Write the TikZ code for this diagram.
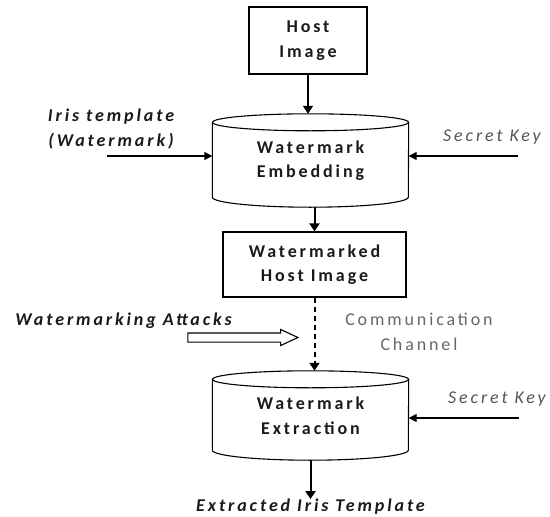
\documentclass[tikz,border=0pt]{standalone}
\usepackage{fontspec}
\setmainfont{Carlito}[LetterSpace=16]
\usetikzlibrary{arrows.meta,shapes.arrows}
\definecolor{inkdark}{HTML}{1A1A1A}
\definecolor{keygray}{HTML}{555555}
\definecolor{changray}{HTML}{666666}

\begin{document}
\begin{tikzpicture}[x=1pt,y=-1pt,
  every node/.style={inner sep=0pt, text=inkdark, font=\fontsize{18}{24.5}\selectfont},
  block/.style={draw, line width=1.3pt, align=center, font=\fontsize{18}{24.5}\selectfont\bfseries},
  cyl/.style={align=center, minimum width=196pt, font=\fontsize{18}{24.5}\selectfont\bfseries},
  cylline/.style={line width=1.1pt},
  lbl/.style={align=center, font=\fontsize{18}{24.5}\selectfont\bfseries\itshape},
  keylbl/.style={text=keygray, font=\fontsize{18}{24.5}\selectfont\itshape},
  chan/.style={align=center, text=changray, font=\fontsize{18}{24.5}\selectfont},
  arr/.style={line width=2pt, -{Triangle[length=8pt,width=10pt]}},
  sidearr/.style={line width=1.4pt, -{Triangle[length=8pt,width=8pt]}},
  hollow/.style={single arrow, draw, line width=1.1pt, fill=white, minimum height=110pt,
    inner sep=4pt, single arrow head extend=3.5pt, single arrow tip angle=50}]
\useasboundingbox (0,0) rectangle (550,517);

\node[block, minimum width=118pt, minimum height=67pt] (host) at (308,40.5) {Host\\Image};
\node[cyl, minimum height=93pt] (embed) at (310.5,160.5) {Watermark\\Embedding};
\node[block, minimum width=183pt, minimum height=65pt] (marked) at (314.5,264.5) {Watermarked\\Host Image};
\node[cyl, minimum height=89pt] (extract) at (310.5,415.5) {Watermark\\Extraction};
\node[lbl] (result) at (310.5,507) {Extracted Iris Template};

% cylinder outlines
\foreach \c in {embed,extract}{
  \draw[cylline] ([yshift=-8.5pt]\c.north) ellipse [x radius=98pt, y radius=8.5pt];
  \draw[cylline] ([yshift=-8.5pt]\c.north west) -- ([yshift=10pt]\c.south west)
    arc [start angle=180, end angle=360, x radius=98pt, y radius=10pt]
    -- ([yshift=-8.5pt]\c.north east);
}

\draw[arr] (host.south) -- (host.south |- embed.north);
\draw[arr] (marked.north |- embed.south) -- (marked.north);
\draw[arr, dash pattern=on 5pt off 4pt] (marked.south) -- (marked.south |- extract.north);
\draw[arr] (extract.south) -- (result.north);

\node[lbl] (irislbl) at (111,129) {Iris template\\(Watermark)};
\coordinate (irisin) at (107,156);
\draw[sidearr] (irisin) -- (irisin -| embed.west);

\node[keylbl] (key1) at (492,137) {Secret Key};
\coordinate (key1in) at (518,156);
\draw[sidearr] (key1in) -- (key1in -| embed.east);

\node[keylbl] (key2) at (497,399) {Secret Key};
\coordinate (key2in) at (519,418);
\draw[sidearr] (key2in) -- (key2in -| extract.east);

\node[lbl] (attacks) at (123.5,321) {Watermarking Attacks};
\node[hollow] (attackarr) at (238,337.5) {};

\node[chan] (channel) at (419,332) {Communication\\Channel};
\end{tikzpicture}
\end{document}
